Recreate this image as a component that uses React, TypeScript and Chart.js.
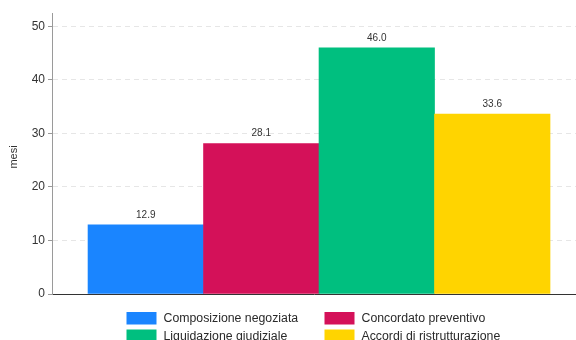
import React, { useEffect, useRef } from 'react';
import { Chart, registerables } from 'chart.js';

Chart.register(...registerables);

const categories = [
  'Composizione negoziata',
  'Concordato preventivo',
  'Liquidazione giudiziale',
  'Accordi di ristrutturazione',
];
const values = [12.9, 28.1, 46.0, 33.6];
const colors = ['#1a85ff', '#d41159', '#00bf7f', '#ffd400'];
const yTicks = [0, 10, 20, 30, 40, 50];
const yTitle = 'mesi';

const FONT = "'Liberation Sans', Arial, Helvetica, sans-serif";

const valueLabels = {
  id: 'valueLabels',
  afterDatasetsDraw(chart: any) {
    const { ctx } = chart;
    const meta = chart.getDatasetMeta(0);
    ctx.save();
    ctx.font = `10px ${FONT}`;
    ctx.fillStyle = '#333333';
    ctx.textAlign = 'center';
    ctx.textBaseline = 'bottom';
    meta.data.forEach((el: any, i: number) => {
      ctx.fillText(values[i].toFixed(1), el.x, el.y - 5);
    });
    ctx.restore();
  },
};

const axisTitle = {
  id: 'axisTitle',
  afterDraw(chart: any) {
    const { ctx } = chart;
    ctx.save();
    ctx.translate(14, 157);
    ctx.rotate(-Math.PI / 2);
    ctx.font = `11px ${FONT}`;
    ctx.fillStyle = '#333333';
    ctx.textAlign = 'center';
    ctx.textBaseline = 'middle';
    ctx.fillText(yTitle, 0, 0);
    ctx.restore();
  },
};

const gridLegend = {
  id: 'gridLegend',
  afterDraw(chart: any) {
    const { ctx } = chart;
    const colX = [126.5, 324.5];
    const rowY = [312, 329.5];
    const boxW = 30;
    const boxH = 12.5;
    ctx.save();
    ctx.font = `12.3px ${FONT}`;
    ctx.textAlign = 'left';
    ctx.textBaseline = 'middle';
    categories.forEach((label, i) => {
      const x = colX[i % 2];
      const y = rowY[Math.floor(i / 2)];
      ctx.fillStyle = colors[i];
      ctx.fillRect(x, y, boxW, boxH);
      ctx.fillStyle = '#2a2a2a';
      ctx.fillText(label, x + boxW + 7, y + boxH / 2 + 0.5);
    });
    ctx.restore();
  },
};

export default function App() {
  const ref = useRef<HTMLCanvasElement | null>(null);

  useEffect(() => {
    if (!ref.current) return;
    const chart = new Chart(ref.current, {
      type: 'bar',
      data: {
        datasets: [
          {
            data: values.map((v, i) => ({ x: i, y: v })) as any,
            backgroundColor: colors,
            borderWidth: 0,
            barPercentage: 1,
            categoryPercentage: 1,
          },
        ],
      },
      options: {
        responsive: false,
        animation: false,
        devicePixelRatio: 1,
        layout: { padding: { top: 13, right: 0, bottom: 46, left: 0 } },
        plugins: {
          legend: { display: false },
          tooltip: { enabled: false },
        },
        scales: {
          x: {
            type: 'linear',
            offset: false,
            min: -0.812,
            max: 3.725,
            afterBuildTicks: (s: any) => {
              s.ticks = categories.map((_, i) => ({ value: i }));
            },
            ticks: { display: false },
            grid: { display: false, drawTicks: false },
            border: { display: true, color: '#333333', width: 1 },
          },
          y: {
            min: 0,
            max: 52.5,
            afterBuildTicks: (s: any) => {
              s.ticks = yTicks.map((v) => ({ value: v }));
            },
            afterFit: (s: any) => {
              s.width = 52;
            },
            ticks: {
              font: { family: FONT, size: 12 },
              color: '#333333',
              padding: 3,
            },
            grid: {
              color: (c: any) => (c.tick && c.tick.value === 0 ? 'rgba(0,0,0,0)' : '#e6e6e6'),
              tickColor: '#999999',
              tickLength: 4,
              lineWidth: 1,
            },
            border: { color: '#9a9a9a', width: 1, dash: [5, 4] },
            title: { display: false },
          },
        },
      } as any,
      plugins: [valueLabels, axisTitle, gridLegend],
    });
    return () => chart.destroy();
  }, []);

  return (
    <div
      style={{
        position: 'fixed',
        left: 0,
        top: 0,
        width: 576,
        height: 340,
        overflow: 'hidden',
        background: '#ffffff',
      }}
    >
      <canvas ref={ref} width={576} height={340} style={{ width: 576, height: 340, display: 'block' }} />
    </div>
  );
}
